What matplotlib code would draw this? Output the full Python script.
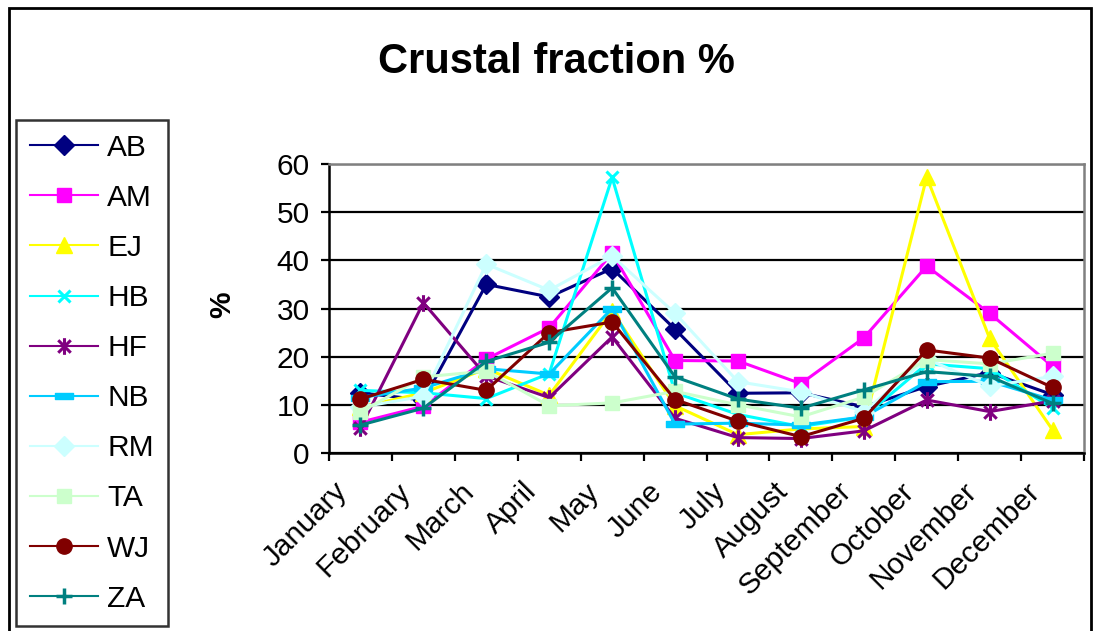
import numpy as np
import matplotlib
matplotlib.use("Agg")
import matplotlib.pyplot as plt
from matplotlib.path import Path
from matplotlib.patches import Rectangle
from matplotlib.transforms import ScaledTranslation

plt.rcParams['font.family'] = ['Liberation Sans', 'DejaVu Sans']

months = ['January', 'February', 'March', 'April', 'May', 'June', 'July',
          'August', 'September', 'October', 'November', 'December']

AB = [12.5, 11.0, 35.0, 32.4, 38.3, 25.7, 12.4, 12.5, 9.6, 13.8, 16.7, 12.1]
AM = [6.4, 9.7, 19.5, 26.0, 41.5, 19.2, 19.1, 14.4, 23.9, 38.8, 29.0, 18.0]
EJ = [9.5, 12.5, 17.5, 12.0, 29.5, 9.8, 3.8, 5.0, 5.5, 57.3, 23.8, 4.8]
HB = [13.0, 12.5, 11.3, 16.5, 57.2, 12.5, 8.0, 5.5, 7.5, 18.5, 17.5, 9.3]
HF = [5.2, 31.2, 16.0, 11.5, 24.1, 7.2, 3.2, 3.0, 4.6, 11.0, 8.6, 10.8]
NB = [11.5, 13.5, 17.5, 16.4, 30.0, 6.0, 6.2, 5.8, 7.5, 14.8, 14.9, 11.0]
RM = [9.5, 11.8, 39.2, 33.8, 40.9, 29.0, 14.8, 12.7, 8.6, 19.5, 13.9, 15.9]
TA = [8.5, 15.8, 17.0, 9.8, 10.4, 12.8, 10.0, 7.5, 11.6, 19.4, 18.5, 20.7]
WJ = [11.2, 15.3, 13.0, 25.0, 27.2, 11.1, 6.6, 3.4, 7.2, 21.4, 19.7, 13.6]
ZA = [5.8, 9.3, 19.0, 23.0, 34.3, 15.8, 11.2, 9.3, 13.1, 16.9, 15.9, 10.3]

# asterisk (vertical bar + X) and flat dash markers
star = Path([(0, -1), (0, 1), (-0.75, -0.75), (0.75, 0.75), (-0.75, 0.75), (0.75, -0.75)],
            [Path.MOVETO, Path.LINETO] * 3)
dash = Path([(-1, -0.35), (1, -0.35), (1, 0.35), (-1, 0.35), (-1, -0.35)],
            [Path.MOVETO, Path.LINETO, Path.LINETO, Path.LINETO, Path.CLOSEPOLY])

series = [
    ('AB', AB, '#000080', 'D', 10, 1),
    ('AM', AM, '#FF00FF', 's', 10.5, 1),
    ('EJ', EJ, '#FFFF00', '^', 12, 1),
    ('HB', HB, '#00FFFF', 'x', 9, 2.2),
    ('HF', HF, '#800080', star, 12, 2.2),
    ('NB', NB, '#00CCFF', dash, 13, 1),
    ('RM', RM, '#CCFFFF', 'D', 10.5, 1),
    ('TA', TA, '#CCFFCC', 's', 10.5, 1),
    ('WJ', WJ, '#800000', 'o', 11, 1),
    ('ZA', ZA, '#008080', '+', 11, 2.5),
]

fs = 21.5

fig = plt.figure(figsize=(10.99, 6.31), dpi=100)
ax = fig.add_axes([329 / 1099, 1 - 453 / 631, 755 / 1099, 289 / 631])

x = np.arange(len(months))
for name, vals, col, mk, ms, mew in series:
    ax.plot(x, vals, color=col, lw=2.2, marker=mk, ms=ms, mfc=col, mec=col,
            mew=mew, label=name, clip_on=False)

ax.set_xlim(-0.5, len(months) - 0.5)
ax.set_ylim(0, 60)
ax.set_yticks(np.arange(0, 61, 10))
ax.yaxis.grid(True, color='black', lw=1.6)
ax.set_axisbelow(True)

ax.set_xticks(x)
ax.set_xticks(np.arange(-0.5, len(months)), minor=True)
ax.tick_params(axis='x', which='major', length=0, pad=0, labelsize=fs)
ax.tick_params(axis='x', which='minor', length=6, width=1.6, direction='out')
ax.tick_params(axis='y', length=6, width=1.6, labelsize=fs, pad=8)
ax.set_xticklabels(months, rotation=45, ha='right', va='center',
                   rotation_mode='anchor')
shift = ScaledTranslation(-0.17, -0.34, fig.dpi_scale_trans)
for lbl in ax.get_xticklabels():
    lbl.set_transform(lbl.get_transform() + shift)

for side in ['left', 'bottom']:
    ax.spines[side].set_linewidth(1.8)
for side in ['top', 'right']:
    ax.spines[side].set_linewidth(1.8)
    ax.spines[side].set_color('#808080')

fig.text(222 / 1099, 1 - 305 / 631, '%', fontsize=fs, fontweight='bold',
         rotation=90, ha='center', va='center')

fig.text(556 / 1099, 1 - 62 / 631, 'Crustal fraction %', fontsize=30,
         fontweight='bold', ha='center', va='center')

leg = fig.legend(loc='upper left', bbox_to_anchor=(16 / 1099, 1 - 120 / 631),
                 fontsize=fs, frameon=True, fancybox=False, edgecolor='black',
                 handlelength=2.3, handletextpad=0.3, labelspacing=0.74,
                 borderpad=0.46, borderaxespad=0)
leg.get_frame().set_linewidth(1.8)
for h in leg.get_lines():
    h.set_linewidth(1.5)

# chart area border
fig.patches.append(Rectangle((9 / 1099, -0.05), 1082 / 1099, 1.05 - 8 / 631,
                             transform=fig.transFigure, fill=False,
                             edgecolor='black', lw=2.0))

fig.savefig('out.png', dpi=100)
